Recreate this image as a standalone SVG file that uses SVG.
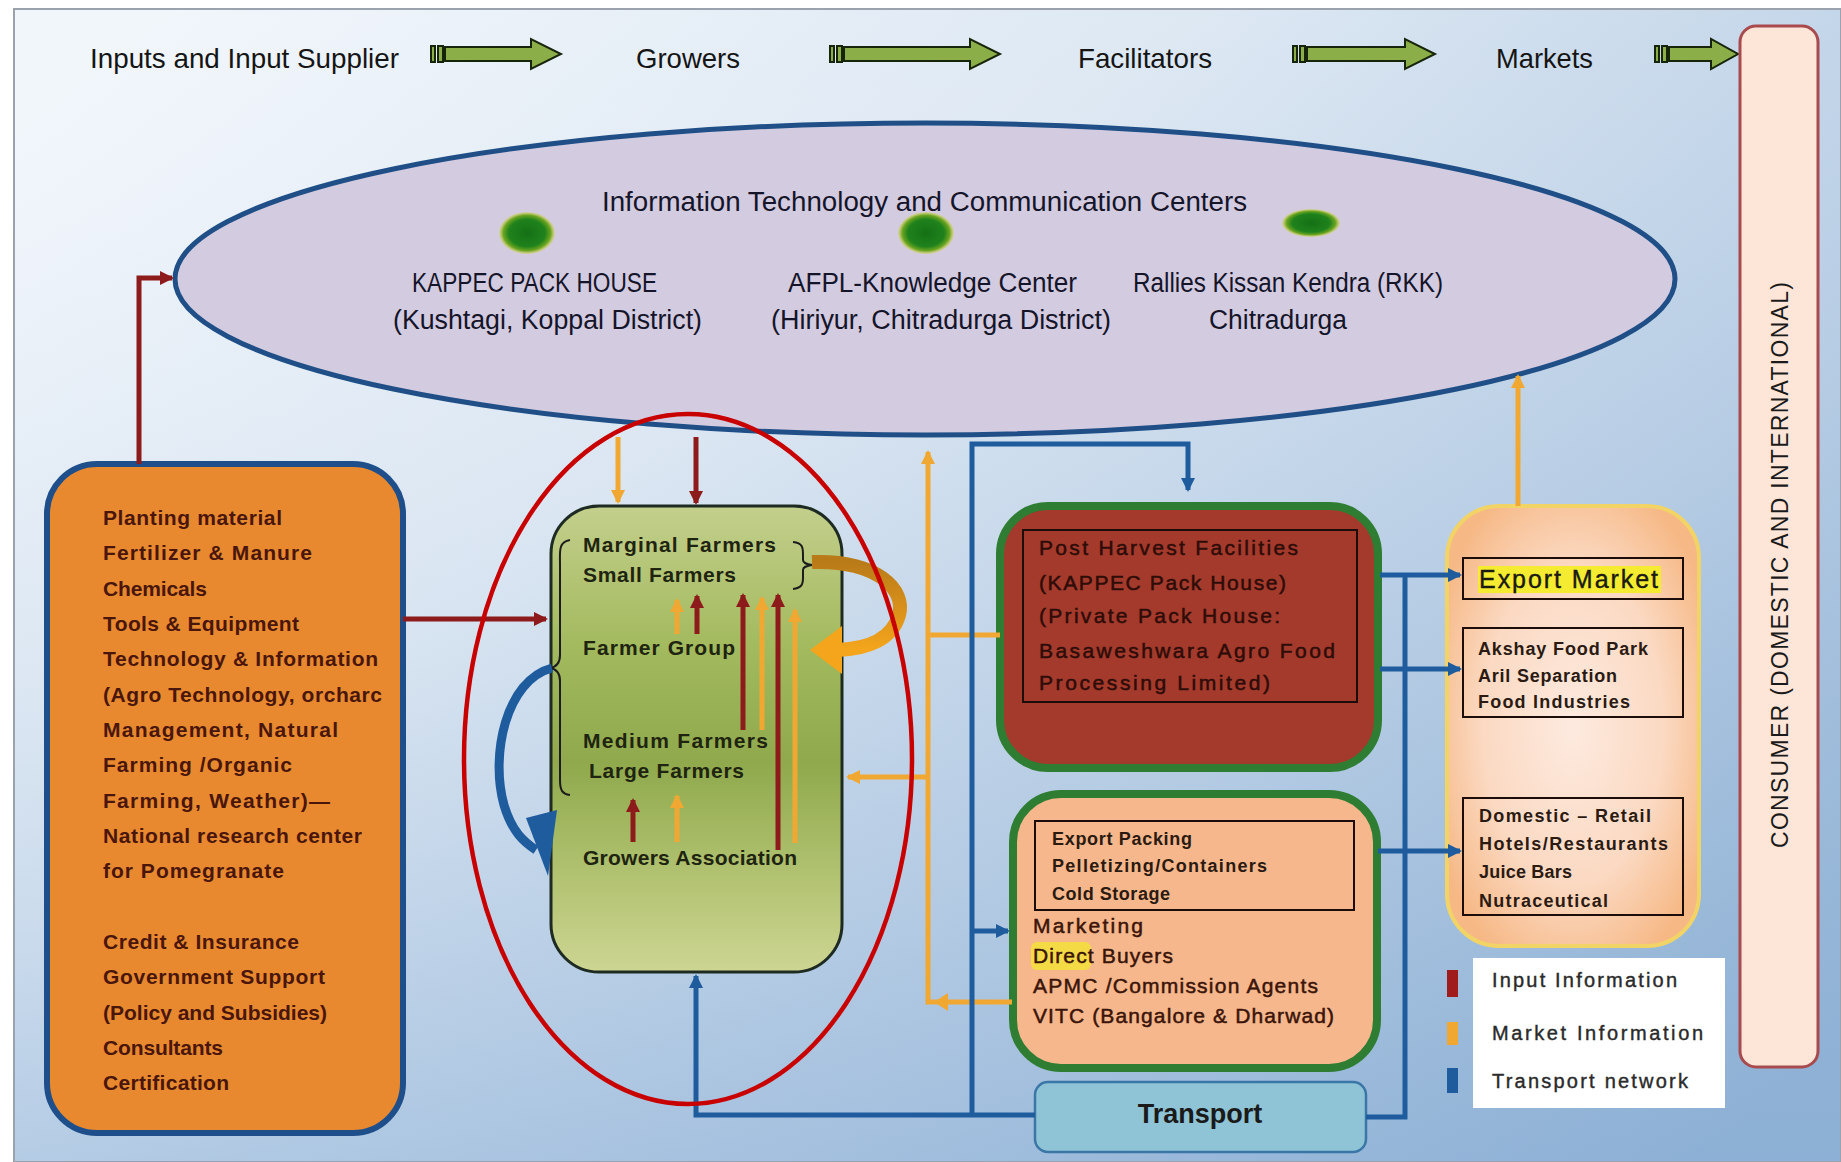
<svg xmlns="http://www.w3.org/2000/svg" width="1841" height="1162" viewBox="0 0 1841 1162">
<defs>
  <linearGradient id="bg" x1="0" y1="0.1" x2="1" y2="0.9">
    <stop offset="0" stop-color="#f1f6fb"/>
    <stop offset="0.35" stop-color="#dde8f3"/>
    <stop offset="0.7" stop-color="#b4cbe3"/>
    <stop offset="1" stop-color="#8aaed2"/>
  </linearGradient>
  <linearGradient id="bgV" x1="0" y1="0" x2="0" y2="1">
    <stop offset="0" stop-color="#ffffff" stop-opacity="0"/>
    <stop offset="0.6" stop-color="#a9c3df" stop-opacity="0.15"/>
    <stop offset="1" stop-color="#8fb2d8" stop-opacity="0.45"/>
  </linearGradient>
  <linearGradient id="greenFill" x1="0" y1="0" x2="0" y2="1">
    <stop offset="0" stop-color="#c3cf8c"/>
    <stop offset="0.3" stop-color="#a3ba5e"/>
    <stop offset="0.55" stop-color="#8fa94c"/>
    <stop offset="0.8" stop-color="#b2c372"/>
    <stop offset="1" stop-color="#cdd592"/>
  </linearGradient>
  <radialGradient id="marketFill" cx="0.5" cy="0.5" r="0.6">
    <stop offset="0" stop-color="#fdeadf"/>
    <stop offset="0.6" stop-color="#fbd9c2"/>
    <stop offset="1" stop-color="#f6b885"/>
  </radialGradient>
  <radialGradient id="dot" cx="0.5" cy="0.5" r="0.5">
    <stop offset="0" stop-color="#157015"/>
    <stop offset="0.65" stop-color="#1f821c"/>
    <stop offset="0.85" stop-color="#6da521"/>
    <stop offset="1" stop-color="#d6d84a" stop-opacity="0.4"/>
  </radialGradient>
  <linearGradient id="brownArrow" x1="0" y1="0" x2="0" y2="1">
    <stop offset="0" stop-color="#b97a18"/>
    <stop offset="1" stop-color="#f4a51c"/>
  </linearGradient>
  <marker id="mRed" markerUnits="userSpaceOnUse" markerWidth="16" markerHeight="16" refX="12" refY="7" orient="auto">
    <path d="M0,0 L14,7 L0,14 Z" fill="#8e1b1b"/>
  </marker>
  <marker id="mYel" markerUnits="userSpaceOnUse" markerWidth="16" markerHeight="16" refX="12" refY="7" orient="auto">
    <path d="M0,0 L14,7 L0,14 Z" fill="#f1a832"/>
  </marker>
  <marker id="mBlue" markerUnits="userSpaceOnUse" markerWidth="16" markerHeight="16" refX="12" refY="7" orient="auto">
    <path d="M0,0 L14,7 L0,14 Z" fill="#1f5c9e"/>
  </marker>
</defs>
<style>
  text{font-family:"Liberation Sans",Arial,sans-serif}
  .hdr{font-size:28px;fill:#151515}
  .ell{font-size:27px;fill:#15152a}
  .inp{font-size:21px;font-weight:bold;fill:#4a160c}
  .grw{font-size:21px;font-weight:bold;fill:#1f2410}
  .phf{font-size:21px;fill:#2e0c08;stroke:#2e0c08;stroke-width:0.5}
  .mk1{font-size:18px;font-weight:bold;fill:#2a1a10}
  .mk2{font-size:21px;fill:#3a1408;stroke:#3a1408;stroke-width:0.5}
  .mkt{font-size:18px;font-weight:bold;fill:#2a1a12}
  .leg{font-size:20px;fill:#2a2a2a;stroke:#2a2a2a;stroke-width:0.4}
  .harrow{fill:#8cae48;stroke:#16240a;stroke-width:2}
  .red{fill:none;stroke:#8e1b1b;stroke-width:5}
  .yel{fill:none;stroke:#f1a832;stroke-width:5}
  .blu{fill:none;stroke:#1f5c9e;stroke-width:5}
  .inner{fill:none;stroke:#1c0c0a;stroke-width:2}
</style>

<!-- background -->
<rect x="0" y="0" width="1841" height="1162" fill="#ffffff"/>
<rect x="14" y="9" width="1827" height="1153" fill="url(#bg)"/>
<rect x="14" y="9" width="1827" height="1153" fill="url(#bgV)"/>
<rect x="14" y="9" width="1827" height="1153" fill="none" stroke="#9aa3ad" stroke-width="2"/>

<!-- header -->
<g id="header">
  <text class="hdr" x="90" y="68" textLength="309" lengthAdjust="spacingAndGlyphs">Inputs and Input Supplier</text>
  <text class="hdr" x="636" y="68" textLength="104" lengthAdjust="spacingAndGlyphs">Growers</text>
  <text class="hdr" x="1078" y="68" textLength="134" lengthAdjust="spacingAndGlyphs">Facilitators</text>
  <text class="hdr" x="1496" y="68" textLength="97" lengthAdjust="spacingAndGlyphs">Markets</text>
  <g id="hdr-arrow-1">
    <rect class="harrow" x="431" y="46" width="4" height="16"/>
    <rect class="harrow" x="438" y="46" width="5" height="16"/>
    <path class="harrow" d="M445,47 H531 V39 L561,54 L531,69 V61 H445 Z"/>
  </g>
  <g id="hdr-arrow-2">
    <rect class="harrow" x="830" y="46" width="4" height="16"/>
    <rect class="harrow" x="837" y="46" width="5" height="16"/>
    <path class="harrow" d="M844,47 H970 V39 L1000,54 L970,69 V61 H844 Z"/>
  </g>
  <g id="hdr-arrow-3">
    <rect class="harrow" x="1293" y="46" width="4" height="16"/>
    <rect class="harrow" x="1300" y="46" width="5" height="16"/>
    <path class="harrow" d="M1307,47 H1405 V39 L1435,54 L1405,69 V61 H1307 Z"/>
  </g>
  <g id="hdr-arrow-4">
    <rect class="harrow" x="1655" y="46" width="4" height="16"/>
    <rect class="harrow" x="1662" y="46" width="5" height="16"/>
    <path class="harrow" d="M1669,47 H1711 V39 L1738,54 L1711,69 V61 H1669 Z"/>
  </g>
</g>

<!-- ICT ellipse -->
<g id="ict-centers">
  <ellipse cx="925" cy="279" rx="750" ry="156" fill="#d3cbe0" stroke="#1f4f86" stroke-width="5"/>
  <text class="ell" x="602" y="211" textLength="645" lengthAdjust="spacingAndGlyphs">Information Technology and Communication Centers</text>
  <ellipse cx="527" cy="233" rx="28" ry="21" fill="url(#dot)"/>
  <ellipse cx="926" cy="233" rx="28" ry="21" fill="url(#dot)"/>
  <ellipse cx="1311" cy="223" rx="29" ry="14" fill="url(#dot)"/>
  <text class="ell" x="412" y="292" textLength="245" lengthAdjust="spacingAndGlyphs">KAPPEC PACK HOUSE</text>
  <text class="ell" x="393" y="329" textLength="309" lengthAdjust="spacingAndGlyphs">(Kushtagi, Koppal District)</text>
  <text class="ell" x="788" y="292" textLength="289" lengthAdjust="spacingAndGlyphs">AFPL-Knowledge Center</text>
  <text class="ell" x="771" y="329" textLength="340" lengthAdjust="spacingAndGlyphs">(Hiriyur, Chitradurga District)</text>
  <text class="ell" x="1133" y="292" textLength="310" lengthAdjust="spacingAndGlyphs">Rallies Kissan Kendra (RKK)</text>
  <text class="ell" x="1209" y="329" textLength="138" lengthAdjust="spacingAndGlyphs">Chitradurga</text>
</g>

<!-- Inputs box -->
<g id="inputs">
  <rect x="47" y="464" width="356" height="669" rx="50" fill="#e8892f" stroke="#1f4f8a" stroke-width="6"/>
  <text class="inp" x="103" y="525" textLength="179">Planting material</text>
  <text class="inp" x="103" y="560" textLength="209">Fertilizer &amp; Manure</text>
  <text class="inp" x="103" y="596" textLength="104">Chemicals</text>
  <text class="inp" x="103" y="631" textLength="196">Tools &amp; Equipment</text>
  <text class="inp" x="103" y="666" textLength="275">Technology &amp; Information</text>
  <text class="inp" x="103" y="702" textLength="279">(Agro Technology, orcharc</text>
  <text class="inp" x="103" y="737" textLength="235">Management, Natural</text>
  <text class="inp" x="103" y="772" textLength="189">Farming /Organic</text>
  <text class="inp" x="103" y="808" textLength="227">Farming, Weather)—</text>
  <text class="inp" x="103" y="843" textLength="259">National research center</text>
  <text class="inp" x="103" y="878" textLength="181">for Pomegranate</text>
  <text class="inp" x="103" y="949" textLength="196">Credit &amp; Insurance</text>
  <text class="inp" x="103" y="984" textLength="222">Government Support</text>
  <text class="inp" x="103" y="1020" textLength="224">(Policy and Subsidies)</text>
  <text class="inp" x="103" y="1055" textLength="120">Consultants</text>
  <text class="inp" x="103" y="1090" textLength="126">Certification</text>
</g>

<!-- Growers box -->
<g id="growers">
  <rect x="551" y="506" width="291" height="466" rx="48" fill="url(#greenFill)" stroke="#1e2b22" stroke-width="3"/>
  <text class="grw" x="583" y="552" textLength="193">Marginal Farmers</text>
  <text class="grw" x="583" y="582" textLength="153">Small Farmers</text>
  <text class="grw" x="583" y="655" textLength="152">Farmer Group</text>
  <text class="grw" x="583" y="748" textLength="185">Medium Farmers</text>
  <text class="grw" x="589" y="778" textLength="155">Large Farmers</text>
  <text class="grw" x="583" y="865" textLength="214">Growers Association</text>
  <path d="M570,540 C558,542 560,552 560,565 L560,655 C560,663 556,667 550,668 C556,669 560,673 560,681 L560,780 C560,790 562,794 570,795" fill="none" stroke="#1c1c1c" stroke-width="2"/>
  <path d="M793,542 C803,543 803,548 803,555 L803,560 C803,563 806,564 812,565 C806,566 803,567 803,570 L803,578 C803,585 801,588 793,589" fill="none" stroke="#1c1c1c" stroke-width="2"/>
</g>

<!-- Post harvest facilities -->
<g id="post-harvest">
  <rect x="1000" y="506" width="378" height="262" rx="48" fill="#a33a2c" stroke="#2f7d33" stroke-width="8"/>
  <rect class="inner" x="1023" y="530" width="334" height="172"/>
  <text class="phf" x="1039" y="555" textLength="259">Post Harvest Facilities</text>
  <text class="phf" x="1039" y="590" textLength="247">(KAPPEC Pack House)</text>
  <text class="phf" x="1039" y="623" textLength="241">(Private Pack House:</text>
  <text class="phf" x="1039" y="658" textLength="296">Basaweshwara Agro Food</text>
  <text class="phf" x="1039" y="690" textLength="231">Processing Limited)</text>
</g>

<!-- Marketing box -->
<g id="marketing">
  <rect x="1013" y="794" width="364" height="274" rx="48" fill="#f6b78c" stroke="#2f7d33" stroke-width="8"/>
  <rect class="inner" x="1035" y="821" width="319" height="89"/>
  <text class="mk1" x="1052" y="845" textLength="140">Export Packing</text>
  <text class="mk1" x="1052" y="872" textLength="215">Pelletizing/Containers</text>
  <text class="mk1" x="1052" y="900" textLength="118">Cold Storage</text>
  <rect x="1031" y="942" width="60" height="28" rx="6" fill="#f3e23a" opacity="0.85"/>
  <text class="mk2" x="1033" y="933" textLength="110">Marketing</text>
  <text class="mk2" x="1033" y="963" textLength="140">Direct Buyers</text>
  <text class="mk2" x="1033" y="993" textLength="285">APMC /Commission Agents</text>
  <text class="mk2" x="1033" y="1023" textLength="301">VITC (Bangalore &amp; Dharwad)</text>
</g>

<!-- Transport -->
<g id="transport">
  <rect x="1035" y="1082" width="331" height="70" rx="13" fill="#8fc4d6" stroke="#3a76a6" stroke-width="2.5"/>
  <text x="1200" y="1123" text-anchor="middle" font-size="27" font-weight="bold" fill="#1a1a1a">Transport</text>
</g>

<!-- Markets -->
<g id="markets">
  <rect x="1447" y="506" width="252" height="440" rx="52" fill="url(#marketFill)" stroke="#f2d466" stroke-width="4"/>
  <rect class="inner" x="1463" y="558" width="220" height="41"/>
  <rect x="1478" y="566" width="183" height="27" fill="#f5ec32"/>
  <text x="1479" y="588" font-size="25" fill="#1a1a10" stroke="#1a1a10" stroke-width="0.4" textLength="179">Export Market</text>
  <rect class="inner" x="1463" y="628" width="220" height="89"/>
  <text class="mkt" x="1478" y="655" textLength="170">Akshay Food Park</text>
  <text class="mkt" x="1478" y="682" textLength="139">Aril Separation</text>
  <text class="mkt" x="1478" y="708" textLength="152">Food Industries</text>
  <rect class="inner" x="1463" y="798" width="220" height="117"/>
  <text class="mkt" x="1479" y="822" textLength="172">Domestic – Retail</text>
  <text class="mkt" x="1479" y="850" textLength="189">Hotels/Restaurants</text>
  <text class="mkt" x="1479" y="878" textLength="93">Juice Bars</text>
  <text class="mkt" x="1479" y="907" textLength="129">Nutraceutical</text>
</g>

<!-- Consumer -->
<g id="consumer">
  <rect x="1740" y="26" width="78" height="1041" rx="16" fill="#fde6d8" stroke="#a84a4e" stroke-width="3"/>
  <text transform="translate(1788,848) rotate(-90)" font-size="23" fill="#1a1a1a" textLength="566">CONSUMER (DOMESTIC AND INTERNATIONAL)</text>
</g>

<!-- Legend -->
<g id="legend">
  <rect x="1473" y="958" width="252" height="150" fill="#ffffff"/>
  <rect x="1447" y="970" width="11" height="27" fill="#a01c1c"/>
  <rect x="1447" y="1022" width="11" height="23" fill="#f1a832"/>
  <rect x="1447" y="1068" width="11" height="25" fill="#1f5c9e"/>
  <text class="leg" x="1492" y="987" textLength="185">Input Information</text>
  <text class="leg" x="1492" y="1040" textLength="211">Market Information</text>
  <text class="leg" x="1492" y="1088" textLength="196">Transport network</text>
</g>

<!-- Connectors -->
<g id="connectors">
  <path class="red" d="M139,464 V278 H172" marker-end="url(#mRed)"/>
  <path class="red" d="M403,619 H546" marker-end="url(#mRed)"/>
  <path class="yel" d="M618,437 V502" marker-end="url(#mYel)"/>
  <path class="red" d="M696,437 V503" marker-end="url(#mRed)"/>
  <path class="yel" d="M1012,1002 H928 V452" marker-end="url(#mYel)"/>
  <path d="M948,993 L934,1002 L948,1011 Z" fill="#f1a832"/>
  <path class="yel" d="M928,777 H848" marker-end="url(#mYel)"/>
  <path class="yel" d="M1000,635 H928"/>
  <path class="yel" d="M1518,506 V376" marker-end="url(#mYel)"/>
  <path class="blu" d="M972,1115 V444 H1188 V490" marker-end="url(#mBlue)"/>
  <path class="blu" d="M972,931 H1008" marker-end="url(#mBlue)"/>
  <path class="blu" d="M1035,1115 H696 V976" marker-end="url(#mBlue)"/>
  <path class="blu" d="M1366,1117 H1405 V575"/>
  <path class="blu" d="M1380,575 H1460" marker-end="url(#mBlue)"/>
  <path class="blu" d="M1380,669 H1460" marker-end="url(#mBlue)"/>
  <path class="blu" d="M1378,851 H1460" marker-end="url(#mBlue)"/>
  <!-- internal growers flows -->
  <path class="yel" d="M677,634 V600" marker-end="url(#mYel)"/>
  <path class="red" d="M697,634 V596" marker-end="url(#mRed)"/>
  <path class="red" d="M743,730 V595" marker-end="url(#mRed)"/>
  <path class="yel" d="M762,730 V598" marker-end="url(#mYel)"/>
  <path class="red" d="M778,850 V595" marker-end="url(#mRed)"/>
  <path class="yel" d="M795,843 V610" marker-end="url(#mYel)"/>
  <path class="red" d="M633,842 V800" marker-end="url(#mRed)"/>
  <path class="yel" d="M677,842 V796" marker-end="url(#mYel)"/>
  <!-- brown loop arrow -->
  <path d="M812,562 C878,560 906,590 899,615 C892,640 866,649 838,650" fill="none" stroke="url(#brownArrow)" stroke-width="14"/>
  <path d="M842,626 L810,650 L842,674 Z" fill="#f4a51c"/>
  <!-- blue loop arrow -->
  <path d="M552,668 C506,680 490,755 504,805 C512,832 524,842 536,850" fill="none" stroke="#1f5c9e" stroke-width="9"/>
  <path d="M526,818 L557,810 L548,876 Z" fill="#1f5c9e"/>
</g>

<!-- highlight ellipse -->
<g id="focus-ellipse">
  <ellipse cx="688" cy="759" rx="224" ry="345" fill="none" stroke="#c80000" stroke-width="4.5"/>
</g>
</svg>
